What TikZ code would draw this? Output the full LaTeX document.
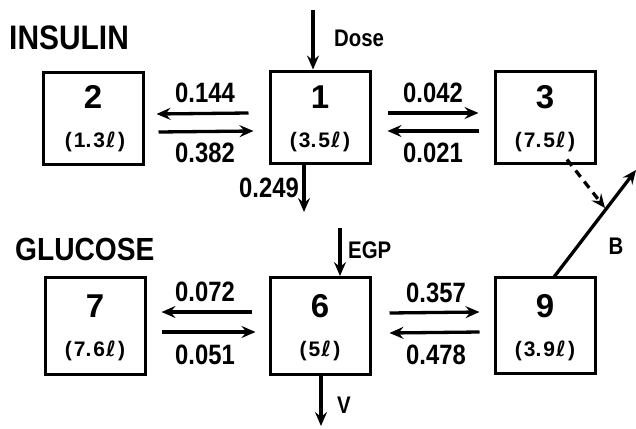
\documentclass[tikz,border=0pt]{standalone}
\usepackage{fontspec}
\setmainfont{Liberation Sans}[UprightFont=*-Bold]
\newfontfamily\titlefont{Liberation Sans Bold}[FakeStretch=0.88]
\newfontfamily\condfont{Liberation Sans Bold}[FakeStretch=0.85]
\newfontfamily\ellfont{DejaVu Sans Bold}
\newcommand{\litre}{\kern1pt{\ellfont ℓ}}
\newcommand{\vs}{\kern2pt}
\usetikzlibrary{arrows.meta}
\begin{document}
\begin{tikzpicture}[x=1pt,y=-1pt,
  comp/.style={draw,line width=3pt,minimum width=100pt,minimum height=92pt,inner sep=0pt},
  num/.style={font=\fontsize{33}{33}\selectfont,inner sep=0pt},
  vol/.style={font=\fontsize{21}{21}\selectfont,inner sep=0pt},
  rate/.style={font=\condfont\fontsize{28}{28}\selectfont,inner sep=0pt},
  side/.style={font=\condfont\fontsize{24}{24}\selectfont,inner sep=0pt},
  title/.style={font=\titlefont\fontsize{34}{34}\selectfont,inner sep=0pt,anchor=west},
  flow/.style={line width=3.3pt,-{Stealth[length=14pt,width=12pt,inset=5pt]}},
]
\path[use as bounding box] (0,0) rectangle (636,428);
% titles
\node[title] (tins) at (9,38) {INSULIN};
\node[title,font=\titlefont\fontsize{32}{32}\selectfont] (tglu) at (15,249) {GLUCOSE};
% boxes
\node[comp] (b2) at (93,118) {};
\node[comp] (b1) at (320,117) {};
\node[comp] (b3) at (545,117) {};
\node[comp,minimum height=97pt] (b7) at (95,326) {};
\node[comp,minimum height=97pt] (b6) at (320,326) {};
\node[comp,minimum height=96pt] (b9) at (545,325) {};
% box texts
\node[num] (n2) at (93,97) {2};
\node[vol] (v2) at (95,142) {(\vs 1.\vs 3\litre\vs)};
\node[num] (n1) at (320,97) {1};
\node[vol] (v1) at (320,142) {(\vs 3.\vs 5\litre\vs)};
\node[num] (n3) at (545,97) {3};
\node[vol] (v3) at (545,142) {(\vs 7.\vs 5\litre\vs)};
\node[num] (n7) at (95,306) {7};
\node[vol] (v7) at (95,351) {(\vs 7.\vs 6\litre\vs)};
\node[num] (n6) at (320,306) {6};
\node[vol] (v6) at (320,351) {(\vs 5\litre\vs)};
\node[num] (n9) at (545,306) {9};
\node[vol] (v9) at (545,351) {(\vs 3.\vs 9\litre\vs)};
% insulin exchanges
\draw[flow] ([xshift=-20pt,yshift=4pt]b1.west) -- ([xshift=12pt,yshift=4pt]b2.east);
\draw[flow] ([xshift=14pt,yshift=-14pt]b2.east) -- ([xshift=-15pt,yshift=-14pt]b1.west);
\draw[flow] ([xshift=16pt,yshift=4pt]b1.east) -- ([xshift=-15pt,yshift=4pt]b3.west);
\draw[flow] ([xshift=-15pt,yshift=-14pt]b3.west) -- ([xshift=16pt,yshift=-14pt]b1.east);
\node[rate] (r144) at (205,93) {0.144};
\node[rate] (r382) at (205,153) {0.382};
\node[rate] (r042) at (433,93) {0.042};
\node[rate] (r021) at (433,153) {0.021};
% glucose exchanges
\draw[flow] ([xshift=-17pt,yshift=14pt]b6.west) -- ([xshift=15pt,yshift=14pt]b7.east);
\draw[flow] ([xshift=15pt,yshift=-6pt]b7.east) -- ([xshift=-13pt,yshift=-6pt]b6.west);
\draw[flow] ([xshift=18pt,yshift=13pt]b6.east) -- ([xshift=-14pt,yshift=13pt]b9.west);
\draw[flow] ([xshift=-14pt,yshift=-7pt]b9.west) -- ([xshift=18pt,yshift=-7pt]b6.east);
\node[rate] (r072) at (205,292) {0.072};
\node[rate] (r051) at (205,355) {0.051};
\node[rate] (r357) at (436,293) {0.357};
\node[rate] (r478) at (436,355) {0.478};
% inputs / outputs
\coordinate (dose0) at (313,10);
\draw[flow] (dose0) -- (dose0 |- b1.north);
\node[side,anchor=west] (ldose) at (334,38) {Dose};
\coordinate (out1) at (304,212);
\draw[flow] (out1 |- b1.south) -- (out1);
\node[rate,anchor=east] (r249) at (299,188) {0.249};
\coordinate (egp0) at (340,228);
\draw[flow] (egp0) -- (egp0 |- b6.north);
\node[side,anchor=west] (legp) at (348,250) {EGP};
\coordinate (v0) at (321,426);
\draw[flow] (v0 |- b6.south) -- (v0);
\node[side,anchor=west] (lv) at (337,405) {V};
% B link
\coordinate (bstart) at (554,277);
\coordinate (bend) at (636,170);
\draw[flow] (bstart) -- (bend);
\node[side] (lb) at (616,246) {B};
\draw[flow,dashed,dash pattern=on 8pt off 6pt] ([xshift=22pt,yshift=5pt]b3.south) -- (605,208);
\end{tikzpicture}
\end{document}
